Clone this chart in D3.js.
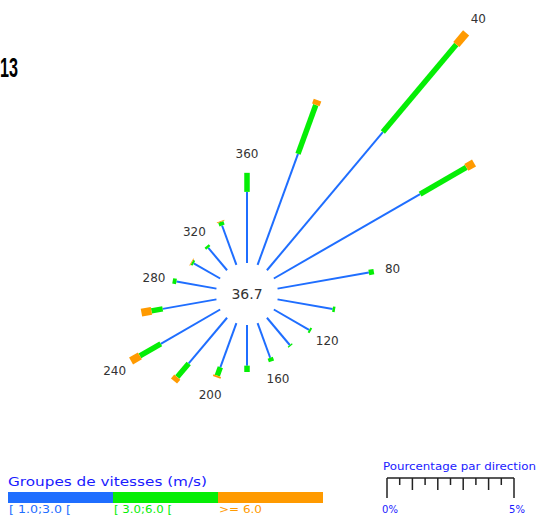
<!DOCTYPE html>
<html>
<head>
<meta charset="utf-8">
<script src="https://cdn.jsdelivr.net/npm/d3@7"></script>
<style>
body { margin:0; background:#fff; }
svg { display:block; }
</style>
</head>
<body>
<svg id="chart" width="541" height="528"></svg>
<script>
// directions (deg, clockwise from north) and percentage per speed group
var directions = [0,20,40,60,80,100,120,140,160,180,200,220,240,260,280,300,320,340];
var speedLow  = [2.8,4.65,7.1,6.65,3.65,2.2,1.6,1.4,1.45,1.6,1.85,2.35,2.7,2.15,1.6,1.2,1.15,1.65];
var speedMid  = [0.75,2.05,4.5,2.1,0.2,0.1,0.08,0.05,0.15,0.25,0.35,0.7,0.95,0.45,0.15,0.08,0.1,0.15];
var speedHigh = [0,0.2,0.6,0.35,0,0,0,0,0,0,0.07,0.2,0.4,0.4,0,0.03,0,0.03];
var groups = ["[ 1.0;3.0 [", "[ 3.0;6.0 [", ">= 6.0"];
var groupColors = ["#1f6eff","#05ee05","#ff9a00"];
var groupWidths = [2,5.5,8];
var groupLabelWidths = [62,58,43];
var calm = "36.7";
var labelDirs = [0,40,80,120,160,200,240,280,320];

var svg = d3.select("#chart");
var cx = 247, cy = 294, r0 = 31;
var pct = d3.scaleLinear().domain([0,5]).range([0,127]);

function pt(deg, r) {
	var a = deg * Math.PI / 180;
	return [cx + Math.sin(a) * r, cy - Math.cos(a) * r];
}

var series = [speedLow, speedMid, speedHigh];
var segs = [];
var ends = {};
directions.forEach(function(d, i) {
	var r = r0;
	series.forEach(function(s, k) {
		var r2 = r + pct(s[i]);
		if(s[i] > 0) segs.push({dir:d, a:r, b:r2, k:k});
		r = r2;
	});
	ends[d] = r;
});

// thin ones first so the thick segments sit on top
segs.sort(function(a,b){ return a.k - b.k; });
svg.selectAll("line.seg").data(segs).enter().append("line")
	.attr("class","seg")
	.attr("x1", function(s){ return pt(s.dir, s.a)[0]; })
	.attr("y1", function(s){ return pt(s.dir, s.a)[1]; })
	.attr("x2", function(s){ return pt(s.dir, s.b)[0]; })
	.attr("y2", function(s){ return pt(s.dir, s.b)[1]; })
	.attr("stroke", function(s){ return groupColors[s.k]; })
	.attr("stroke-width", function(s){ return groupWidths[s.k]; });

svg.selectAll("text.dir").data(labelDirs).enter().append("text")
	.attr("class","dir")
	.attr("x", function(d){ return pt(d, ends[d] + 19)[0]; })
	.attr("y", function(d){ return pt(d, ends[d] + 19)[1]; })
	.attr("dy","0.36em")
	.attr("text-anchor","middle")
	.attr("font-family","DejaVu Sans, sans-serif")
	.attr("font-size",12)
	.attr("fill","#333")
	.text(function(d){ return d === 0 ? "360" : d; });

svg.append("text").attr("x",cx).attr("y",cy).attr("dy","0.36em")
	.attr("text-anchor","middle")
	.attr("font-family","DejaVu Sans, sans-serif")
	.attr("font-size",14).attr("fill","#333")
	.text(calm);

// title (cut at the left edge)
svg.append("text").attr("x",0).attr("y",77)
	.attr("font-family","Liberation Sans, Arial, sans-serif")
	.attr("font-weight","bold").attr("font-size",27)
	.attr("textLength",18).attr("lengthAdjust","spacingAndGlyphs")
	.attr("fill","#000").text("13");

// speed group legend
var lg = svg.append("g").attr("transform","translate(8,0)");
lg.append("text").attr("x",0).attr("y",486)
	.attr("font-family","DejaVu Sans, sans-serif").attr("font-size",12)
	.attr("textLength",199).attr("lengthAdjust","spacingAndGlyphs")
	.attr("fill","#1a1aff").text("Groupes de vitesses (m/s)");
var gx = d3.scaleBand().domain(groups).range([0,315]);
lg.selectAll("rect").data(groups).enter().append("rect")
	.attr("x", function(g){ return gx(g); })
	.attr("y",492).attr("width",gx.bandwidth()).attr("height",11)
	.attr("fill", function(g,i){ return groupColors[i]; });
lg.selectAll("text.grp").data(groups).enter().append("text")
	.attr("class","grp")
	.attr("x", function(g){ return gx(g) + 1; })
	.attr("y",513)
	.attr("font-family","DejaVu Sans, sans-serif").attr("font-size",10)
	.attr("textLength", function(g,i){ return groupLabelWidths[i]; })
	.attr("lengthAdjust","spacingAndGlyphs")
	.attr("fill", function(g,i){ return groupColors[i]; })
	.text(function(g){ return g; });

// percentage scale legend
var sx = d3.scaleLinear().domain([0,5]).range([387,387+pct(5)]);
svg.append("text").attr("x",383).attr("y",470)
	.attr("font-family","DejaVu Sans, sans-serif").attr("font-size",10)
	.attr("textLength",153).attr("lengthAdjust","spacingAndGlyphs")
	.attr("fill","#1a1aff").text("Pourcentage par direction");
svg.append("line").attr("x1",sx(0)).attr("x2",sx(5)).attr("y1",478).attr("y2",478)
	.attr("stroke","#222").attr("stroke-width",1.5);
var ticks = d3.range(0,5.01,0.5);
svg.selectAll("line.tk").data(ticks).enter().append("line")
	.attr("class","tk")
	.attr("x1", function(t){ return sx(t); }).attr("x2", function(t){ return sx(t); })
	.attr("y1",478)
	.attr("y2", function(t){ return (t===0||t===5) ? 498 : (t%1===0 ? 490 : 485); })
	.attr("stroke","#222").attr("stroke-width",1.5);
svg.selectAll("text.tl").data([0,5]).enter().append("text")
	.attr("class","tl")
	.attr("x", function(t){ return sx(t) + 3; }).attr("y",513)
	.attr("text-anchor","middle")
	.attr("font-family","DejaVu Sans, sans-serif").attr("font-size",10)
	.attr("fill","#1a1aff").text(function(t){ return t + "%"; });
</script>
</body>
</html>
